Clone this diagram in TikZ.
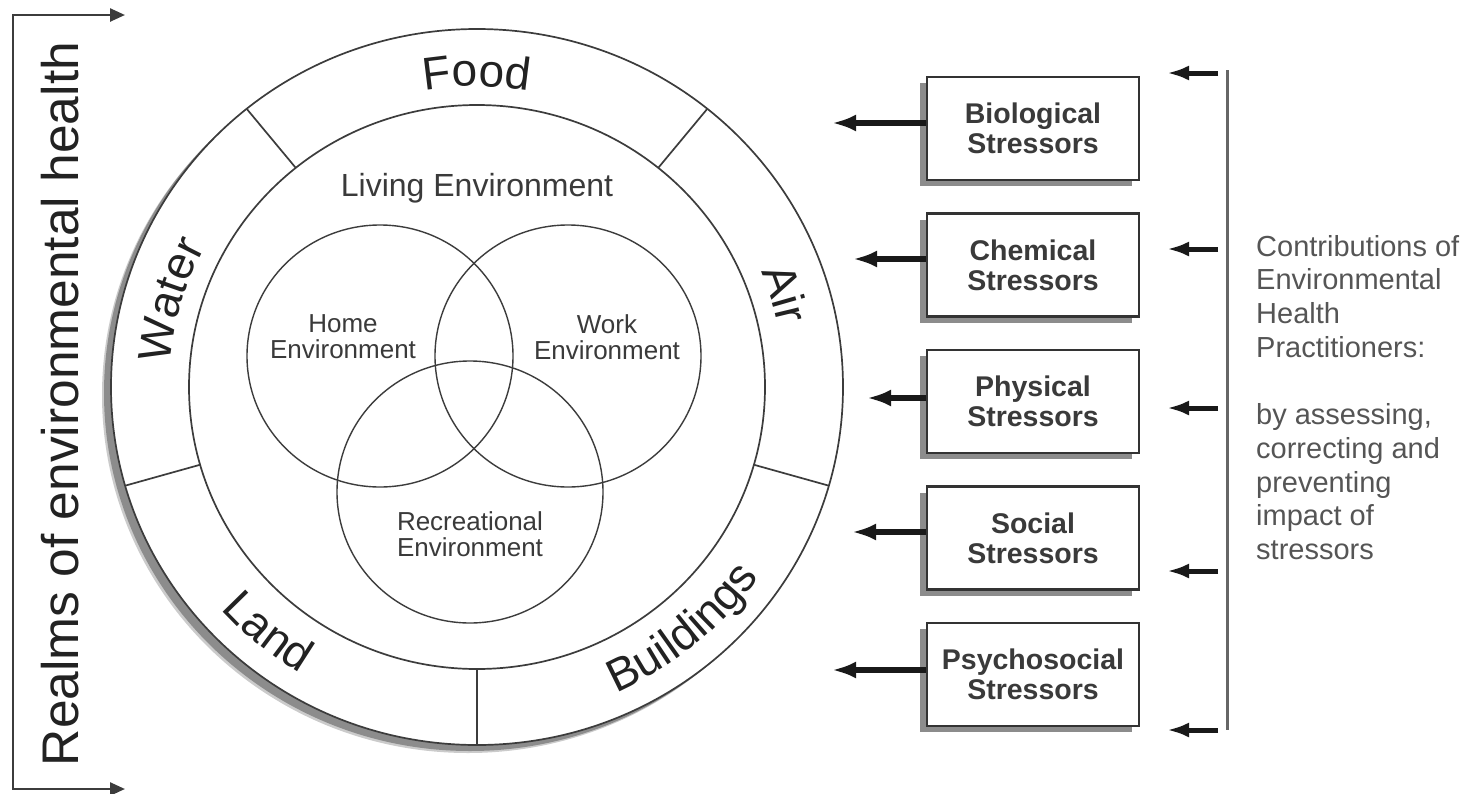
\documentclass[tikz,border=0pt]{standalone}
\usepackage{fontspec}
\setmainfont{Liberation Sans}
\usetikzlibrary{arrows.meta,decorations.text,shadows}
\definecolor{lineC}{HTML}{3C3C3C}
\definecolor{txtC}{HTML}{222222}
\definecolor{midTxt}{HTML}{3A3A3A}
\definecolor{lightTxt}{HTML}{555555}
\definecolor{shadowC}{HTML}{8C8C8C}
\newcommand\ringfont{\fontsize{46}{46}\selectfont}
\begin{document}
\begin{tikzpicture}[x=1pt,y=-1pt,
  ring/.style={draw=lineC, line width=1.7pt},
  venn/.style={draw=lineC, line width=1.4pt},
  vennlabel/.style={font=\fontsize{26}{26}\selectfont, text=midTxt, align=center, inner sep=0pt},
  stressbox/.style={draw=black!80, line width=2.4pt, fill=white, minimum width=212pt, minimum height=103pt, align=center, inner sep=0pt, font=\fontsize{28.5}{30}\selectfont\bfseries, text=midTxt, drop shadow={shadow xshift=-7pt, shadow yshift=-6pt, fill=shadowC, opacity=1}},
  boldarrowL/.style={draw=black!90, line width=5.5pt, -{Latex[length=24pt,width=17pt]}},
  boldarrowR/.style={draw=black!90, line width=5pt, -{Latex[length=22pt,width=15pt]}},
  bracket/.style={draw=lineC, line width=2.5pt, {Triangle[length=15pt,width=13pt]}-{Triangle[length=15pt,width=13pt]}},
  ringlabel/.style={decorate, decoration={text along path, text align=center, text color=txtC}},
]
\useasboundingbox (0,0) rectangle (1468,793);
\coordinate (C) at (477,387);

% outer ring with shadow
\fill[shadowC!45] ([shift={(-9,8)}]C) ellipse [x radius=366, y radius=358];
\fill[shadowC] ([shift={(-7,6)}]C) ellipse [x radius=366, y radius=358];
\draw[ring, fill=white] (C) ellipse [x radius=366, y radius=358];
\draw[ring] (C) ellipse [x radius=288, y radius=282];
\foreach \a in {231,309,164,16,90}
  \draw[ring] ([shift={(\a:288 and 282)}]C) -- ([shift={(\a:366 and 358)}]C);

% Venn circles
\draw[venn] (380,356) ellipse [x radius=133, y radius=131];
\draw[venn] (568,356) ellipse [x radius=133, y radius=131];
\draw[venn] (470,492) ellipse [x radius=133, y radius=131];

% ring labels
\path[ringlabel, decoration={text={|\ringfont|Food}}] ([shift={(240:307.4 and 300.7)}]C) arc[start angle=240, end angle=300, x radius=307.4, y radius=300.7];
\path[ringlabel, decoration={text={|\ringfont|Water}}] ([shift={(156:307.4 and 300.7)}]C) arc[start angle=156, end angle=236, x radius=307.4, y radius=300.7];
\path[ringlabel, decoration={text={|\ringfont|Air}}] ([shift={(303:307.4 and 300.7)}]C) arc[start angle=303, end angle=383, x radius=307.4, y radius=300.7];
\path[ringlabel, decoration={text={|\ringfont|Land}}] ([shift={(170:342.2 and 334.7)}]C) arc[start angle=170, end angle=90, x radius=342.2, y radius=334.7];
\path[ringlabel, decoration={text={|\ringfont|Buildings}}] ([shift={(95:342.2 and 334.7)}]C) arc[start angle=95, end angle=5, x radius=342.2, y radius=334.7];

% inner labels
\node[font=\fontsize{32}{32}\selectfont, text=midTxt, anchor=base] (living) at (477,196) {Living Environment};
\node[vennlabel] (home) at (343,337) {Home\\Environment};
\node[vennlabel] (work) at (607,337) {Work\\Environment};
\node[vennlabel] (rec) at (470,534) {Recreational\\Environment};

% left bracket
\node[rotate=90, anchor=base, font=\fontsize{51.5}{52}\selectfont, text=txtC] (realms) at (78,404) {Realms of environmental health};
\coordinate (bT) at (125,15);
\coordinate (bTL) at (13,15);
\coordinate (bBL) at (13,789);
\coordinate (bB) at (125,789);
\draw[bracket] (bB) -- (bBL) -- (bTL) -- (bT);

% stressor boxes
\node[stressbox] (bio) at (1033,128.5) {Biological\\Stressors};
\node[stressbox] (chem) at (1033,265) {Chemical\\Stressors};
\node[stressbox] (phys) at (1033,401.5) {Physical\\Stressors};
\node[stressbox] (soc) at (1033,538) {Social\\Stressors};
\node[stressbox] (psy) at (1033,674.5) {Psychosocial\\Stressors};

\coordinate (bioTip) at (832,123);
\coordinate (chemTip) at (853,259);
\coordinate (physTip) at (867,398);
\coordinate (socTip) at (852,532);
\coordinate (psyTip) at (832,670);
\draw[boldarrowL] (bio.west |- bioTip) -- (bioTip);
\draw[boldarrowL] (chem.west |- chemTip) -- (chemTip);
\draw[boldarrowL] (phys.west |- physTip) -- (physTip);
\draw[boldarrowL] (soc.west |- socTip) -- (socTip);
\draw[boldarrowL] (psy.west |- psyTip) -- (psyTip);

% right side
\coordinate (vTop) at (1227,70);
\coordinate (vBot) at (1227,730);
\draw[draw=gray!80!black, line width=3pt] (vTop) -- (vBot);
\foreach \yy [count=\i] in {73,249,408,571,730} {
  \coordinate (rs\i) at (1218,\yy);
  \coordinate (rt\i) at (1167,\yy);
  \draw[boldarrowR] (rs\i) -- (rt\i);
}
\node[anchor=north west, align=left, inner sep=0pt, font=\fontsize{29}{33.7}\selectfont, text=lightTxt] (contrib) at (1256,235) {Contributions of\\Environmental\\Health\\Practitioners:\\[33.7pt]by assessing,\\correcting and\\preventing\\impact of\\stressors};
\end{tikzpicture}
\end{document}
